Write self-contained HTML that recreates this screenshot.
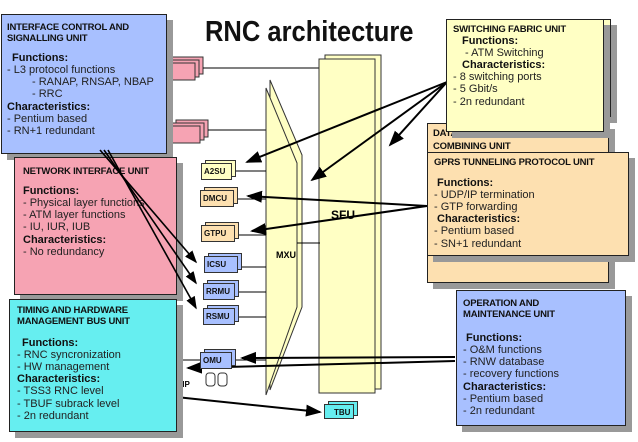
<!DOCTYPE html>
<html><head><meta charset="utf-8"><style>
body{margin:0;width:638px;height:442px;background:#fff;position:relative;overflow:hidden;font-family:"Liberation Sans",sans-serif}
.b{position:absolute;border:1px solid #222;box-shadow:6px 6px 0 #999;box-sizing:border-box}
.t{font-weight:bold;font-size:9.5px;letter-spacing:-0.2px;color:#111}
.h{font-weight:bold;font-size:11px;color:#111}
.l{font-size:11px;color:#222;line-height:12.2px}
.u{position:absolute;font-weight:bold;font-size:8px;border:1px solid #333;box-sizing:border-box;padding:3px 0 0 2px;color:#111}
p{margin:0}
</style></head><body>
<svg width="638" height="442" style="position:absolute;left:0;top:0">
<defs><marker id="a" markerWidth="8" markerHeight="8" refX="7" refY="4" orient="auto"><path d="M0,1 L8,4 L0,7 z" fill="#000"/></marker></defs>
<rect x="171" y="57" width="32" height="17" fill="#f6a3b3" stroke="#333"/>
<rect x="167" y="60" width="32" height="17" fill="#f6a3b3" stroke="#333"/>
<rect x="163" y="63" width="32" height="17" fill="#f6a3b3" stroke="#333"/>
<rect x="176" y="120" width="32" height="17" fill="#f6a3b3" stroke="#333"/>
<rect x="172" y="123" width="32" height="17" fill="#f6a3b3" stroke="#333"/>
<rect x="168" y="126" width="32" height="17" fill="#f6a3b3" stroke="#333"/>
<line x1="203" y1="68" x2="320" y2="68" stroke="#000"/>
<line x1="208" y1="130" x2="268" y2="130" stroke="#000"/>
<rect x="325" y="55" width="56" height="334" fill="#ffffc4" stroke="#333"/>
<rect x="319" y="59" width="56" height="334" fill="#ffffc4" stroke="#333"/>
<polygon points="270,80 302,155 302,307 270,390" fill="#ffffc4" stroke="#333"/>
<polygon points="266,88 297,163 297,307 266,395" fill="#ffffc4" stroke="#333"/>
<line x1="297" y1="243" x2="320" y2="243" stroke="#000"/>
<g stroke="#000">
<line x1="232" y1="171" x2="266" y2="171"/>
<line x1="238" y1="199" x2="266" y2="199"/>
<line x1="239" y1="235" x2="266" y2="235"/>
<line x1="241" y1="267" x2="266" y2="267"/>
<line x1="238" y1="292" x2="266" y2="292"/>
<line x1="238" y1="317" x2="266" y2="317"/>
<line x1="235" y1="360" x2="266" y2="360"/>
<line x1="176" y1="360" x2="200" y2="360"/>
</g>
<g stroke="#000" stroke-width="2" fill="none" marker-end="url(#a)">
<line x1="447" y1="82" x2="247" y2="162"/>
<line x1="447" y1="82" x2="312" y2="180"/>
<line x1="447" y1="82" x2="390" y2="145"/>
<line x1="427" y1="206" x2="248" y2="196"/>
<line x1="427" y1="206" x2="252" y2="231"/>
<line x1="455" y1="357" x2="242" y2="358"/>
<line x1="455" y1="361" x2="188" y2="368"/>
<line x1="176" y1="397" x2="320" y2="412"/>
</g>
<rect x="206" y="373" width="9" height="13" rx="3" fill="#fff" stroke="#333"/>
<rect x="218" y="373" width="9" height="13" rx="3" fill="#fff" stroke="#333"/>
</svg>
<div style="position:absolute;left:205px;top:16px;font-weight:bold;font-size:29px;color:#111;transform:scaleX(0.88);transform-origin:left top;white-space:nowrap">RNC architecture</div>

<div class="u" style="left:205px;top:160px;width:31px;height:17px;background:#ffffc4"></div>
<div class="u" style="left:201px;top:163px;width:31px;height:17px;background:#ffffc4">A2SU</div>
<div class="u" style="left:204px;top:187px;width:34px;height:17px;background:#fde0b0"></div>
<div class="u" style="left:200px;top:190px;width:34px;height:17px;background:#fde0b0">DMCU</div>
<div class="u" style="left:205px;top:222px;width:34px;height:17px;background:#fde0b0"></div>
<div class="u" style="left:201px;top:225px;width:34px;height:17px;background:#fde0b0">GTPU</div>
<div class="u" style="left:208px;top:253px;width:34px;height:17px;background:#a8c0ff"></div>
<div class="u" style="left:204px;top:256px;width:34px;height:17px;background:#a8c0ff">ICSU</div>
<div class="u" style="left:207px;top:280px;width:32px;height:17px;background:#a8c0ff"></div>
<div class="u" style="left:203px;top:283px;width:32px;height:17px;background:#a8c0ff">RRMU</div>
<div class="u" style="left:207px;top:305px;width:32px;height:17px;background:#a8c0ff"></div>
<div class="u" style="left:203px;top:308px;width:32px;height:17px;background:#a8c0ff">RSMU</div>
<div class="u" style="left:204px;top:349px;width:32px;height:17px;background:#a8c0ff"></div>
<div class="u" style="left:200px;top:352px;width:32px;height:17px;background:#a8c0ff">OMU</div>
<div class="u" style="left:328px;top:401px;width:30px;height:15px;background:#66eef0"></div>
<div class="u" style="left:324px;top:404px;width:30px;height:15px;background:#66eef0;padding:3px 0 0 9px">TBU</div>
<div style="position:absolute;left:180px;top:380px;font-size:8px;font-weight:bold">/IP</div>
<div style="position:absolute;left:276px;top:250px;font-size:9px;font-weight:bold">MXU</div>
<div style="position:absolute;left:331px;top:208px;font-size:12px;font-weight:bold">SFU</div>

<div class="b" style="left:1px;top:14px;width:166px;height:140px;background:#a8c0ff;padding:7px 5px">
<p class="t">INTERFACE CONTROL AND<br>SIGNALLING UNIT</p>
<p class="h" style="margin:8px 0 0 5px">Functions:</p>
<p class="l">- L3 protocol functions</p>
<p class="l" style="padding-left:25px">- RANAP, RNSAP, NBAP</p>
<p class="l" style="padding-left:25px">- RRC</p>
<p class="h">Characteristics:</p>
<p class="l">- Pentium based<br>- RN+1 redundant</p>
</div>
<div class="b" style="left:14px;top:157px;width:163px;height:138px;background:#f6a3b3;padding:8px 8px">
<p class="t">NETWORK INTERFACE UNIT</p>
<p class="h" style="margin-top:8px">Functions:</p>
<p class="l">- Physical layer functions<br>- ATM layer functions<br>- IU, IUR, IUB</p>
<p class="h">Characteristics:</p>
<p class="l">- No redundancy</p>
</div>
<div class="b" style="left:9px;top:299px;width:168px;height:133px;background:#66eef0;padding:5px 7px">
<p class="t">TIMING AND HARDWARE<br>MANAGEMENT BUS UNIT</p>
<p class="h" style="margin:10px 0 0 5px">Functions:</p>
<p class="l">- RNC syncronization<br>- HW management</p>
<p class="h">Characteristics:</p>
<p class="l">- TSS3 RNC level<br>- TBUF subrack level<br>- 2n redundant</p>
</div>
<div class="b" style="left:427px;top:123px;width:182px;height:160px;background:#fde0b0;padding:3px 5px">
<p class="t" style="line-height:13px">DATA<br>COMBINING UNIT</p>
</div>
<div class="b" style="left:461px;top:19px;width:150px;height:98px;background:#ffffc4"></div>
<div class="b" style="left:446px;top:19px;width:158px;height:113px;background:#ffffc4;padding:4px 6px">
<p class="t">SWITCHING FABRIC UNIT</p>
<p class="h" style="padding-left:9px">Functions:</p>
<p class="l" style="padding-left:12px">- ATM Switching</p>
<p class="h" style="padding-left:9px">Characteristics:</p>
<p class="l">- 8 switching ports<br>- 5 Gbit/s<br>- 2n redundant</p>
</div>
<div class="b" style="left:427px;top:152px;width:202px;height:104px;background:#fde0b0;padding:4px 6px">
<p class="t">GPRS TUNNELING PROTOCOL UNIT</p>
<p class="h" style="margin-top:9px;padding-left:3px">Functions:</p>
<p class="l">- UDP/IP termination<br>- GTP forwarding</p>
<p class="h" style="padding-left:3px">Characteristics:</p>
<p class="l">- Pentium based<br>- SN+1 redundant</p>
</div>
<div class="b" style="left:456px;top:290px;width:170px;height:136px;background:#a8c0ff;padding:7px 6px">
<p class="t">OPERATION AND<br>MAINTENANCE UNIT</p>
<p class="h" style="margin-top:12px;padding-left:3px">Functions:</p>
<p class="l">- O&amp;M functions<br>- RNW database<br>- recovery functions</p>
<p class="h">Characteristics:</p>
<p class="l">- Pentium based<br>- 2n redundant</p>
</div>
<svg width="638" height="442" style="position:absolute;left:0;top:0">
<defs><marker id="b" markerWidth="8" markerHeight="8" refX="7" refY="4" orient="auto"><path d="M0,1 L8,4 L0,7 z" fill="#000"/></marker></defs>
<g stroke="#000" stroke-width="1.6" fill="none" marker-end="url(#b)">
<line x1="100" y1="150" x2="196" y2="262"/>
<line x1="104" y1="150" x2="196" y2="283"/>
<line x1="108" y1="150" x2="196" y2="308"/>
</g>
</svg>
</body></html>
